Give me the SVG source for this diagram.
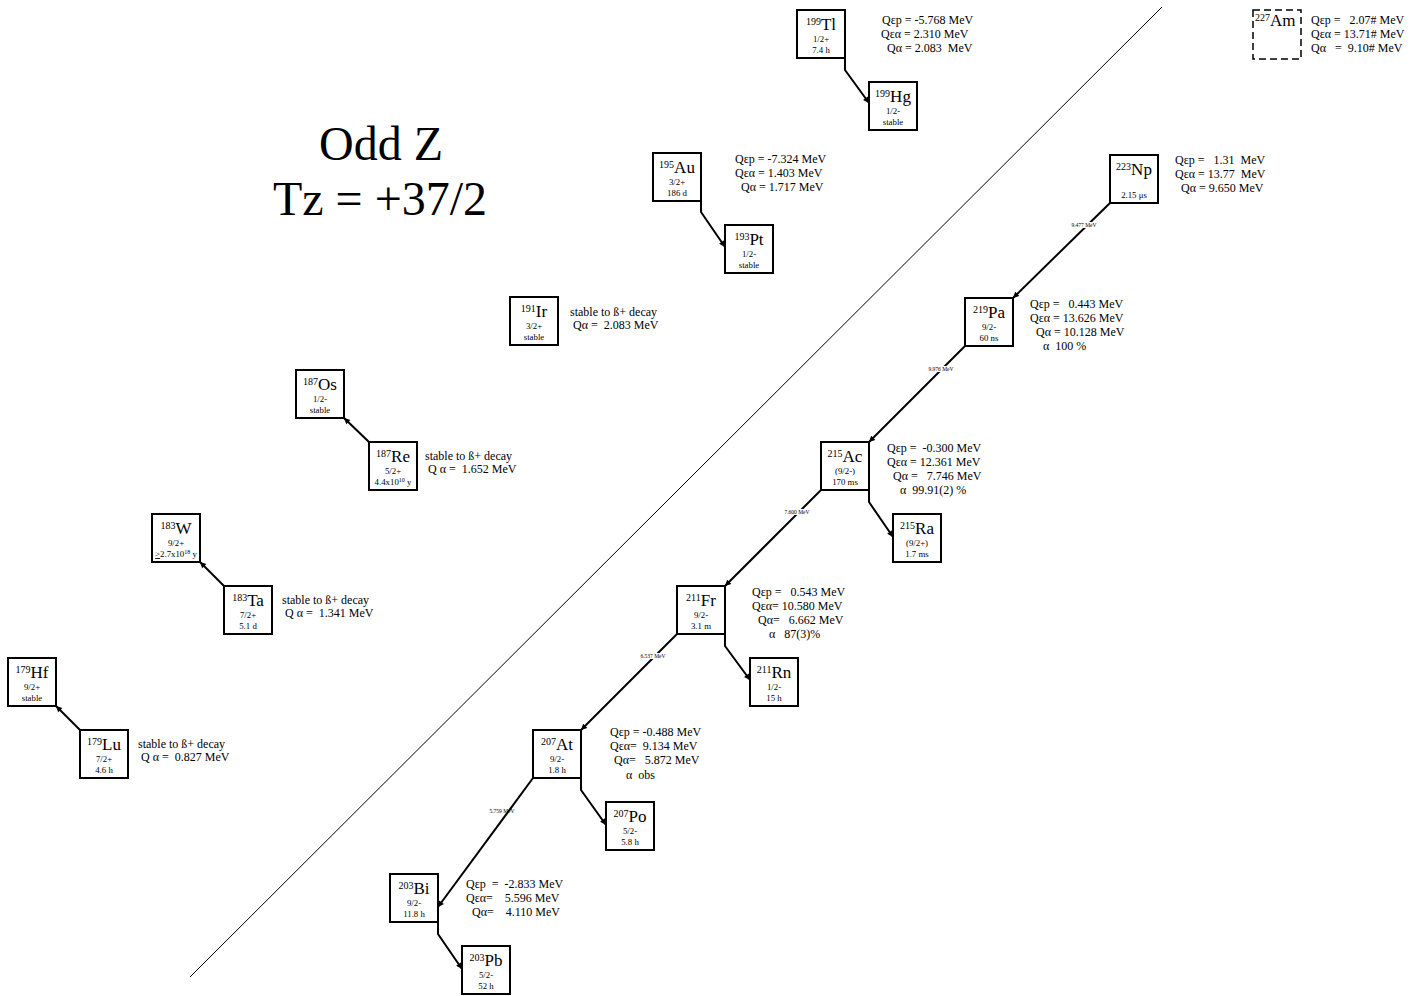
<svg xmlns="http://www.w3.org/2000/svg" width="1427" height="996" viewBox="0 0 1427 996">
<defs>
<marker id="ah" viewBox="0 0 10 10" refX="10" refY="5" markerWidth="9" markerHeight="6" markerUnits="userSpaceOnUse" orient="auto"><path d="M0,0 L10,5 L0,10 z" fill="#000"/></marker>
<style>
text{font-family:"Liberation Serif","Times New Roman",serif;fill:#000;white-space:pre}
.box{fill:#fff;stroke:#000;stroke-width:2}
.dash{fill:#fff;stroke:#000;stroke-width:1.5;stroke-dasharray:7,4}
.sym{font-size:17px;text-anchor:middle}
.ms{font-size:10px}
.sm{font-size:8.8px;text-anchor:middle}
.q{font-size:12px}
.lab{font-size:5.5px;text-anchor:middle}
.title{font-size:48px;text-anchor:middle}
.c{fill:none;stroke:#000;stroke-width:2}
</style>
</defs>
<rect width="1427" height="996" fill="#fff"/>
<line x1="190" y1="977" x2="1162" y2="7" stroke="#000" stroke-width="1"/>
<text class="title" x="381" y="160">Odd Z</text>
<text class="title" x="380" y="215">Tz = +37/2</text>

<g id="connectors">
<path class="c" d="M845,58 V70 L869,103" marker-end="url(#ah)"/>
<path class="c" d="M701,201 V212 L725,247" marker-end="url(#ah)"/>
<path class="c" d="M869,490 V502 L893,537" marker-end="url(#ah)"/>
<path class="c" d="M725,634 V646 L750,680" marker-end="url(#ah)"/>
<path class="c" d="M581,778 V790 L606,825" marker-end="url(#ah)"/>
<path class="c" d="M438,922 V934 L462,969" marker-end="url(#ah)"/>
<path class="c" d="M1110,203 L1013,298" marker-end="url(#ah)"/>
<path class="c" d="M965,346 L869,442" marker-end="url(#ah)"/>
<path class="c" d="M821,490 L725,586" marker-end="url(#ah)"/>
<path class="c" d="M677,634 L581,730" marker-end="url(#ah)"/>
<path class="c" d="M533,778 L438,907" marker-end="url(#ah)"/>
<path class="c" d="M80,730 L56,706" marker-end="url(#ah)"/>
<path class="c" d="M224,586 L200,562" marker-end="url(#ah)"/>
<path class="c" d="M369,442 L344,418" marker-end="url(#ah)"/>
<rect x="1068" y="222" width="32" height="6" fill="#fff"/>
<text class="lab" x="1084" y="227">9.477 MeV</text>
<rect x="925" y="366" width="32" height="6" fill="#fff"/>
<text class="lab" x="941" y="371">9.976 MeV</text>
<rect x="781" y="509" width="32" height="6" fill="#fff"/>
<text class="lab" x="797" y="514">7.600 MeV</text>
<rect x="637" y="653" width="32" height="6" fill="#fff"/>
<text class="lab" x="653" y="658">6.537 MeV</text>
<text class="lab" x="502" y="813">5.759 MeV</text>
</g>

<g id="Tl199"><rect class="box" x="797" y="10" width="48" height="48"/>
<text class="sym" x="821" y="30"><tspan class="ms" dy="-5">199</tspan><tspan dy="5">Tl</tspan></text>
<text class="sm" x="821" y="42">1/2+</text><text class="sm" x="821" y="53">7.4 h</text>
<text class="q" x="882" y="24">Qεp = -5.768 MeV</text>
<text class="q" x="881" y="38">Qεα = 2.310 MeV</text>
<text class="q" x="887" y="52">Qα = 2.083  MeV</text></g>

<g id="Hg199"><rect class="box" x="869" y="82" width="48" height="48"/>
<text class="sym" x="893" y="102"><tspan class="ms" dy="-5">199</tspan><tspan dy="5">Hg</tspan></text>
<text class="sm" x="893" y="114">1/2-</text><text class="sm" x="893" y="125">stable</text></g>

<g id="Am227"><rect class="dash" x="1253" y="10" width="48" height="49"/>
<text x="1255" y="26" font-size="17px"><tspan class="ms" dy="-5">227</tspan><tspan dy="5">Am</tspan></text>
<text class="q" x="1311" y="24">Qεp =   2.07# MeV</text>
<text class="q" x="1311" y="38">Qεα = 13.71# MeV</text>
<text class="q" x="1311" y="52">Qα   =  9.10# MeV</text></g>

<g id="Au195"><rect class="box" x="653" y="153" width="48" height="48"/>
<text class="sym" x="677" y="173"><tspan class="ms" dy="-5">195</tspan><tspan dy="5">Au</tspan></text>
<text class="sm" x="677" y="185">3/2+</text><text class="sm" x="677" y="196">186 d</text>
<text class="q" x="735" y="163">Qεp = -7.324 MeV</text>
<text class="q" x="735" y="177">Qεα = 1.403 MeV</text>
<text class="q" x="741" y="191">Qα = 1.717 MeV</text></g>

<g id="Pt193"><rect class="box" x="725" y="225" width="48" height="48"/>
<text class="sym" x="749" y="245"><tspan class="ms" dy="-5">193</tspan><tspan dy="5">Pt</tspan></text>
<text class="sm" x="749" y="257">1/2-</text><text class="sm" x="749" y="268">stable</text></g>

<g id="Np223"><rect class="box" x="1110" y="155" width="48" height="48"/>
<text class="sym" x="1134" y="175"><tspan class="ms" dy="-5">223</tspan><tspan dy="5">Np</tspan></text>
<text class="sm" x="1134" y="198">2.15 μs</text>
<text class="q" x="1175" y="164">Qεp =   1.31  MeV</text>
<text class="q" x="1175" y="178">Qεα = 13.77  MeV</text>
<text class="q" x="1181" y="192">Qα = 9.650 MeV</text></g>

<g id="Ir191"><rect class="box" x="510" y="297" width="48" height="48"/>
<text class="sym" x="534" y="317"><tspan class="ms" dy="-5">191</tspan><tspan dy="5">Ir</tspan></text>
<text class="sm" x="534" y="329">3/2+</text><text class="sm" x="534" y="340">stable</text>
<text class="q" x="570" y="316">stable to ß+ decay</text>
<text class="q" x="573" y="329">Qα =  2.083 MeV</text></g>

<g id="Pa219"><rect class="box" x="965" y="298" width="48" height="48"/>
<text class="sym" x="989" y="318"><tspan class="ms" dy="-5">219</tspan><tspan dy="5">Pa</tspan></text>
<text class="sm" x="989" y="330">9/2-</text><text class="sm" x="989" y="341">60 ns</text>
<text class="q" x="1030" y="308">Qεp =   0.443 MeV</text>
<text class="q" x="1030" y="322">Qεα = 13.626 MeV</text>
<text class="q" x="1036" y="336">Qα = 10.128 MeV</text>
<text class="q" x="1043" y="350">α  100 %</text></g>

<g id="Os187"><rect class="box" x="296" y="370" width="48" height="48"/>
<text class="sym" x="320" y="390"><tspan class="ms" dy="-5">187</tspan><tspan dy="5">Os</tspan></text>
<text class="sm" x="320" y="402">1/2-</text><text class="sm" x="320" y="413">stable</text></g>

<g id="Re187"><rect class="box" x="369" y="442" width="48" height="48"/>
<text class="sym" x="393" y="462"><tspan class="ms" dy="-5">187</tspan><tspan dy="5">Re</tspan></text>
<text class="sm" x="393" y="474">5/2+</text><text class="sm" x="393" y="485">4.4x10<tspan font-size="6px" dy="-3">10</tspan><tspan dy="3"> y</tspan></text>
<text class="q" x="425" y="460">stable to ß+ decay</text>
<text class="q" x="428" y="473">Q α =  1.652 MeV</text></g>

<g id="Ac215"><rect class="box" x="821" y="442" width="48" height="48"/>
<text class="sym" x="845" y="462"><tspan class="ms" dy="-5">215</tspan><tspan dy="5">Ac</tspan></text>
<text class="sm" x="845" y="474">(9/2-)</text><text class="sm" x="845" y="485">170 ms</text>
<text class="q" x="887" y="452">Qεp =  -0.300 MeV</text>
<text class="q" x="887" y="466">Qεα = 12.361 MeV</text>
<text class="q" x="893" y="480">Qα =   7.746 MeV</text>
<text class="q" x="900" y="494">α  99.91(2) %</text></g>

<g id="Ra215"><rect class="box" x="893" y="514" width="48" height="48"/>
<text class="sym" x="917" y="534"><tspan class="ms" dy="-5">215</tspan><tspan dy="5">Ra</tspan></text>
<text class="sm" x="917" y="546">(9/2+)</text><text class="sm" x="917" y="557">1.7 ms</text></g>

<g id="W183"><rect class="box" x="152" y="514" width="48" height="48"/>
<text class="sym" x="176" y="534"><tspan class="ms" dy="-5">183</tspan><tspan dy="5">W</tspan></text>
<text class="sm" x="176" y="546">9/2+</text><text class="sm" x="176" y="557"><tspan text-decoration="underline">&gt;</tspan>2.7x10<tspan font-size="6px" dy="-3">18</tspan><tspan dy="3"> y</tspan></text></g>

<g id="Ta183"><rect class="box" x="224" y="586" width="48" height="48"/>
<text class="sym" x="248" y="606"><tspan class="ms" dy="-5">183</tspan><tspan dy="5">Ta</tspan></text>
<text class="sm" x="248" y="618">7/2+</text><text class="sm" x="248" y="629">5.1 d</text>
<text class="q" x="282" y="604">stable to ß+ decay</text>
<text class="q" x="285" y="617">Q α =  1.341 MeV</text></g>

<g id="Fr211"><rect class="box" x="677" y="586" width="48" height="48"/>
<text class="sym" x="701" y="606"><tspan class="ms" dy="-5">211</tspan><tspan dy="5">Fr</tspan></text>
<text class="sm" x="701" y="618">9/2-</text><text class="sm" x="701" y="629">3.1 m</text>
<text class="q" x="752" y="596">Qεp =   0.543 MeV</text>
<text class="q" x="752" y="610">Qεα= 10.580 MeV</text>
<text class="q" x="758" y="624">Qα=   6.662 MeV</text>
<text class="q" x="769" y="638">α   87(3)%</text></g>

<g id="Rn211"><rect class="box" x="750" y="658" width="48" height="48"/>
<text class="sym" x="774" y="678"><tspan class="ms" dy="-5">211</tspan><tspan dy="5">Rn</tspan></text>
<text class="sm" x="774" y="690">1/2-</text><text class="sm" x="774" y="701">15 h</text></g>

<g id="Hf179"><rect class="box" x="8" y="658" width="48" height="48"/>
<text class="sym" x="32" y="678"><tspan class="ms" dy="-5">179</tspan><tspan dy="5">Hf</tspan></text>
<text class="sm" x="32" y="690">9/2+</text><text class="sm" x="32" y="701">stable</text></g>

<g id="Lu179"><rect class="box" x="80" y="730" width="48" height="48"/>
<text class="sym" x="104" y="750"><tspan class="ms" dy="-5">179</tspan><tspan dy="5">Lu</tspan></text>
<text class="sm" x="104" y="762">7/2+</text><text class="sm" x="104" y="773">4.6 h</text>
<text class="q" x="138" y="748">stable to ß+ decay</text>
<text class="q" x="141" y="761">Q α =  0.827 MeV</text></g>

<g id="At207"><rect class="box" x="533" y="730" width="48" height="48"/>
<text class="sym" x="557" y="750"><tspan class="ms" dy="-5">207</tspan><tspan dy="5">At</tspan></text>
<text class="sm" x="557" y="762">9/2-</text><text class="sm" x="557" y="773">1.8 h</text>
<text class="q" x="610" y="736">Qεp = -0.488 MeV</text>
<text class="q" x="610" y="750">Qεα=  9.134 MeV</text>
<text class="q" x="614" y="764">Qα=   5.872 MeV</text>
<text class="q" x="626" y="779">α  obs</text></g>

<g id="Po207"><rect class="box" x="606" y="802" width="48" height="48"/>
<text class="sym" x="630" y="822"><tspan class="ms" dy="-5">207</tspan><tspan dy="5">Po</tspan></text>
<text class="sm" x="630" y="834">5/2-</text><text class="sm" x="630" y="845">5.8 h</text></g>

<g id="Bi203"><rect class="box" x="390" y="874" width="48" height="48"/>
<text class="sym" x="414" y="894"><tspan class="ms" dy="-5">203</tspan><tspan dy="5">Bi</tspan></text>
<text class="sm" x="414" y="906">9/2-</text><text class="sm" x="414" y="917">11.8 h</text>
<text class="q" x="466" y="888">Qεp  =  -2.833 MeV</text>
<text class="q" x="466" y="902">Qεα=    5.596 MeV</text>
<text class="q" x="472" y="916">Qα=    4.110 MeV</text></g>

<g id="Pb203"><rect class="box" x="462" y="946" width="48" height="48"/>
<text class="sym" x="486" y="966"><tspan class="ms" dy="-5">203</tspan><tspan dy="5">Pb</tspan></text>
<text class="sm" x="486" y="978">5/2-</text><text class="sm" x="486" y="989">52 h</text></g>
</svg>
